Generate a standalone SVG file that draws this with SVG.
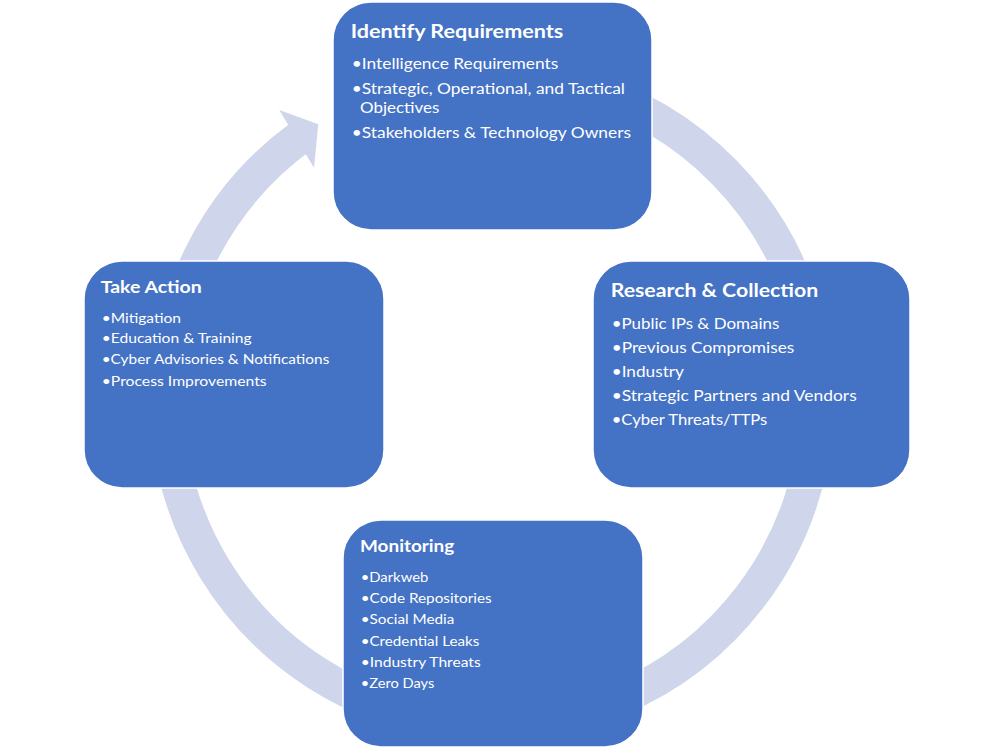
<svg xmlns="http://www.w3.org/2000/svg" width="993" height="749" viewBox="0 0 993 749">
<style>
.box{fill:#4472C4;stroke:#FFFFFF;stroke-width:1.5}
.ring{fill:none;stroke:#CFD5EA;stroke-width:34}
.head{fill:#CFD5EA}
.t{font-family:Lato,"Liberation Sans",sans-serif;fill:#FFFFFF;font-weight:bold}
.b1{font-family:Lato,"Liberation Sans",sans-serif;fill:#FFFFFF;font-size:14.5px}
.b2{font-family:Lato,"Liberation Sans",sans-serif;fill:#FFFFFF;font-size:13.5px}
</style>
<rect x="0" y="0" width="993" height="749" fill="#FFFFFF"/>
<g id="connectors">
<path class="ring" d="M435.56,79.44 A325,325 0 1 1 300.97,136.57"/>
<polygon class="head" points="279.3,110 318.3,124.3 314,167.7"/>
</g>
<g id="identify-requirements">
<rect class="box" x="333" y="2" width="319" height="228" rx="38" ry="38"/>
<text class="t" x="350.7" y="37.5" font-size="18" textLength="212.6" lengthAdjust="spacingAndGlyphs">Identify Requirements</text>
<text class="b1" x="351.7" y="69.3" textLength="206.6" lengthAdjust="spacingAndGlyphs">•Intelligence Requirements</text>
<text class="b1" x="351.7" y="94" textLength="273.3" lengthAdjust="spacingAndGlyphs">•Strategic, Operational, and Tactical</text>
<text class="b1" x="360" y="113.3" textLength="79.3" lengthAdjust="spacingAndGlyphs">Objectives</text>
<text class="b1" x="351.7" y="137.7" textLength="279.3" lengthAdjust="spacingAndGlyphs">•Stakeholders &amp; Technology Owners</text>
</g>
<g id="research-collection">
<rect class="box" x="593" y="261" width="317" height="227" rx="38" ry="38"/>
<text class="t" x="610.7" y="296.7" font-size="18" textLength="207.6" lengthAdjust="spacingAndGlyphs">Research &amp; Collection</text>
<text class="b1" x="611.7" y="329" textLength="167.6" lengthAdjust="spacingAndGlyphs">•Public IPs &amp; Domains</text>
<text class="b1" x="611.7" y="353" textLength="182.6" lengthAdjust="spacingAndGlyphs">•Previous Compromises</text>
<text class="b1" x="611.7" y="377" textLength="72.3" lengthAdjust="spacingAndGlyphs">•Industry</text>
<text class="b1" x="611.7" y="401" textLength="245" lengthAdjust="spacingAndGlyphs">•Strategic Partners and Vendors</text>
<text class="b1" x="611.7" y="425" textLength="155.6" lengthAdjust="spacingAndGlyphs">•Cyber Threats/TTPs</text>
</g>
<g id="take-action">
<rect class="box" x="84" y="261" width="300" height="227" rx="38" ry="38"/>
<text class="t" x="100.7" y="293.3" font-size="17" textLength="101" lengthAdjust="spacingAndGlyphs">Take Action</text>
<text class="b2" x="101.7" y="322.7" textLength="79.3" lengthAdjust="spacingAndGlyphs">•Mitigation</text>
<text class="b2" x="101.7" y="343.3" textLength="150" lengthAdjust="spacingAndGlyphs">•Education &amp; Training</text>
<text class="b2" x="101.7" y="364.3" textLength="227.6" lengthAdjust="spacingAndGlyphs">•Cyber Advisories &amp; Notifications</text>
<text class="b2" x="101.7" y="386" textLength="165" lengthAdjust="spacingAndGlyphs">•Process Improvements</text>
</g>
<g id="monitoring">
<rect class="box" x="343" y="520" width="300" height="227" rx="38" ry="38"/>
<text class="t" x="360" y="552.3" font-size="17" textLength="94.3" lengthAdjust="spacingAndGlyphs">Monitoring</text>
<text class="b2" x="360.7" y="581.7" textLength="67.6" lengthAdjust="spacingAndGlyphs">•Darkweb</text>
<text class="b2" x="360.7" y="602.7" textLength="131" lengthAdjust="spacingAndGlyphs">•Code Repositories</text>
<text class="b2" x="360.7" y="624" textLength="93.6" lengthAdjust="spacingAndGlyphs">•Social Media</text>
<text class="b2" x="360.7" y="645.7" textLength="118.6" lengthAdjust="spacingAndGlyphs">•Credential Leaks</text>
<text class="b2" x="360.7" y="666.7" textLength="120" lengthAdjust="spacingAndGlyphs">•Industry Threats</text>
<text class="b2" x="360.7" y="687.7" textLength="73.6" lengthAdjust="spacingAndGlyphs">•Zero Days</text>
</g>
</svg>
